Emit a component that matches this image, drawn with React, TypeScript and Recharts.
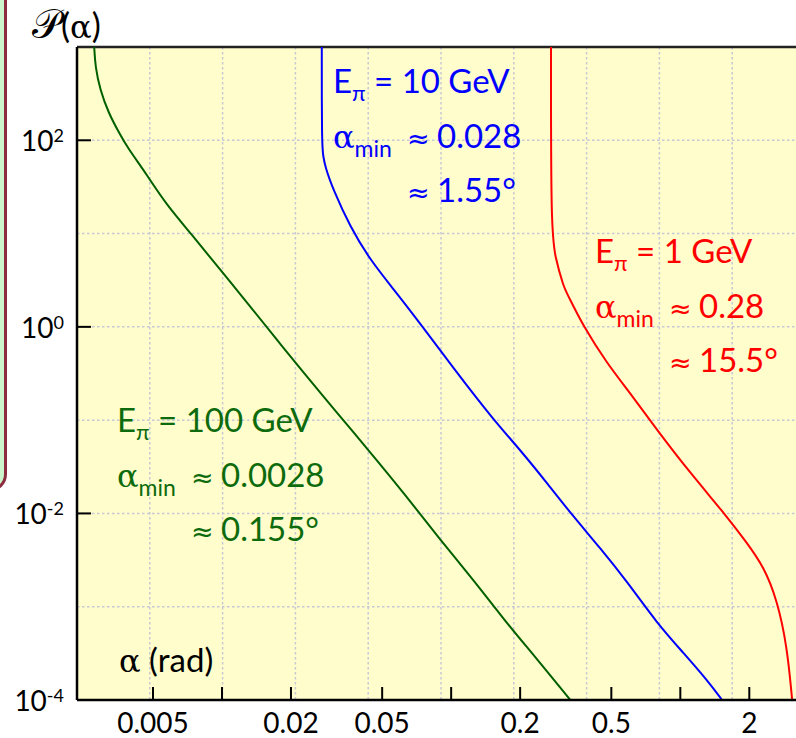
import { CartesianGrid, Line, LineChart, ReferenceLine, XAxis, YAxis } from "recharts";

// axis setup (log-log)
const X_DOMAIN = [0.00233, 3.5];
const Y_DOMAIN = [1e-4, 1e3];
const X_TICKS = [0.005, 0.01, 0.02, 0.05, 0.1, 0.2, 0.5, 1, 2];
const X_LABELED = [0.005, 0.02, 0.05, 0.2, 0.5, 2];
const Y_TICKS = [1e-4, 1e-3, 1e-2, 1e-1, 1, 10, 100, 1000];
const GRID_COLS = [1, 2, 3, 4, 5, 6, 7, 8, 9];

// E_pi = 100 GeV
const alpha100 = [0.00277, 0.0028, 0.00294, 0.0032, 0.0036, 0.00385, 0.00471, 0.00566, 0.0074, 0.00984, 0.0133, 0.0174, 0.0219, 0.0328, 0.0429, 0.0641, 0.0896, 0.125, 0.175, 0.229, 0.331];
const prob100 = [1000, 615, 346, 195, 114, 85, 42.5, 21.1, 9.7, 4.07, 1.65, 0.72, 0.36, 0.109, 0.05, 0.0151, 0.0052, 0.00194, 0.000665, 0.000304, 0.0001];

// E_pi = 10 GeV
const alpha10 = [0.02726, 0.02726, 0.0277, 0.0282, 0.0306, 0.0362, 0.0443, 0.058, 0.0732, 0.1024, 0.1531, 0.2002, 0.2661, 0.3367, 0.4476, 0.5855, 0.7915, 1.034, 1.309, 1.521];
const prob10 = [1000, 85, 66.7, 52, 29.3, 11.9, 5.2, 2.29, 1.09, 0.36, 0.1005, 0.048, 0.0202, 0.00964, 0.00424, 0.00186, 0.000665, 0.000318, 0.000164, 0.0001];

// E_pi = 1 GeV
const alpha1 = [0.2727, 0.2727, 0.2847, 0.3095, 0.3202, 0.3784, 0.4787, 0.6049, 0.7915, 1.106, 1.6, 1.956, 2.312, 2.646, 2.925, 3.076];
const prob1 = [1000, 10.9, 5.48, 2.7, 2.29, 1.0, 0.407, 0.194, 0.0785, 0.027, 0.00925, 0.0048, 0.00269, 0.00118, 0.000373, 0.0001];

const zip = (a: number[], p: number[]) => a.map((v, i) => ({ a: v, p: p[i] }));

const FONT = "Lato, 'Open Sans', sans-serif";
const GREEK = "'DejaVu Serif', serif";
const SYM = "'DejaVu Sans', sans-serif";
const PLOT_LEFT = 77;
const PLOT_BOTTOM = 700;

const notes = [
  { x: 333, y: 93, color: "#0000ff", energy: "10 GeV", amin: "0.028", deg: "1.55" },
  { x: 595, y: 263, color: "#ff0000", energy: "1 GeV", amin: "0.28", deg: "15.5" },
  { x: 117, y: 432, color: "#0d6b0d", energy: "100 GeV", amin: "0.0028", deg: "0.155" },
];

function XTick({ x, payload }: any) {
  const v = payload.value;
  return (
    <g>
      <line x1={x} x2={x} y1={PLOT_BOTTOM} y2={PLOT_BOTTOM - 13} stroke="#000" strokeWidth={2} />
      {X_LABELED.includes(v) ? (
        <text x={x} y={733} textAnchor="middle" fontFamily={FONT} fontSize={28} fill="#000">
          {String(v)}
        </text>
      ) : null}
    </g>
  );
}

function YTick({ y, payload }: any) {
  const e = Math.round(Math.log10(payload.value));
  if (e % 2 !== 0 || e > 2) return <g />;
  return (
    <g>
      <line x1={PLOT_LEFT} x2={PLOT_LEFT + 14} y1={y} y2={y} stroke="#000" strokeWidth={2} />
      <text x={64} y={y + 11} textAnchor="end" fontFamily={FONT} fontSize={28} fill="#000">
        10
        <tspan fontSize={18} dy={-9}>
          {String(e)}
        </tspan>
      </text>
    </g>
  );
}

function Note({ x, y, color, energy, amin, deg }: any) {
  return (
    <g fill={color} fontFamily={FONT}>
      <text x={x} y={y} fontSize={33}>
        E
        <tspan fontSize={22} dy={8}>
          π
        </tspan>
        <tspan dy={-8}>{` = ${energy}`}</tspan>
      </text>
      <text x={x} y={y + 55} fontSize={32} fontFamily={GREEK}>
        α
        <tspan fontSize={23} dy={9} fontFamily={FONT}>
          min
        </tspan>
      </text>
      <text x={x + 74} y={y + 55} fontSize={27} fontFamily={SYM}>≈</text>
      <text x={x + 104} y={y + 55} fontSize={33}>{amin}</text>
      <text x={x + 74} y={y + 109} fontSize={27} fontFamily={SYM}>≈</text>
      <text x={x + 104} y={y + 109} fontSize={33}>{`${deg}°`}</text>
    </g>
  );
}

export default function App() {
  return (
    <div style={{ position: "fixed", left: 0, top: 0, width: 796, height: 738, overflow: "hidden", background: "#fff" }}>
      <div
        style={{
          position: "absolute",
          left: -40,
          top: -20,
          width: 47,
          height: 512,
          boxSizing: "border-box",
          border: "3px solid #8b2d3f",
          borderRadius: 18,
          background: "#ccf5cc",
        }}
      />
      <div style={{ position: "absolute", left: 0, top: 0 }}>
        <LineChart width={830} height={738} margin={{ top: 47, right: 25, bottom: 0, left: 0 }}>
          <CartesianGrid
            fill="#fffdcc"
            stroke="#c6c8d6"
            strokeWidth={1.5}
            strokeDasharray="2.5 2.5"
            verticalCoordinatesGenerator={({ offset }: any) =>
              GRID_COLS.map((i) => offset.left + (offset.width * i) / 10)
            }
          />
          <XAxis
            dataKey="a"
            type="number"
            scale="log"
            domain={X_DOMAIN}
            allowDataOverflow
            ticks={X_TICKS}
            interval={0}
            height={38}
            axisLine={{ stroke: "#000", strokeWidth: 2.5 }}
            tickLine={false}
            tick={(p: any) => <XTick {...p} />}
          />
          <YAxis
            dataKey="p"
            type="number"
            scale="log"
            domain={Y_DOMAIN}
            allowDataOverflow
            ticks={Y_TICKS}
            interval={0}
            width={77}
            axisLine={{ stroke: "#000", strokeWidth: 2.5 }}
            tickLine={false}
            tick={(p: any) => <YTick {...p} />}
          />
          <ReferenceLine y={1000} stroke="#222" strokeWidth={2.5} />
          <Line data={zip(alpha100, prob100)} dataKey="p" type="basis" stroke="#006000" strokeWidth={2} dot={false} isAnimationActive={false} />
          <Line data={zip(alpha10, prob10)} dataKey="p" type="basis" stroke="#0000ff" strokeWidth={2} dot={false} isAnimationActive={false} />
          <Line data={zip(alpha1, prob1)} dataKey="p" type="basis" stroke="#ff0000" strokeWidth={2} dot={false} isAnimationActive={false} />
        </LineChart>
      </div>
      <svg width={796} height={738} style={{ position: "absolute", left: 0, top: 0, pointerEvents: "none" }}>
        <text x={32} y={38} fontFamily={GREEK} fontSize={40} fill="#000">
          𝒫
          <tspan fontFamily={FONT} fontSize={34}>
            (
          </tspan>
          <tspan fontSize={32}>α</tspan>
          <tspan fontFamily={FONT} fontSize={34}>
            )
          </tspan>
        </text>
        <text x={119} y={672} fontFamily={FONT} fontSize={33} fill="#000">
          <tspan fontFamily={GREEK} fontSize={32}>
            α
          </tspan>
          {" (rad)"}
        </text>
        {notes.map((n) => (
          <Note key={n.energy} {...n} />
        ))}
      </svg>
    </div>
  );
}
